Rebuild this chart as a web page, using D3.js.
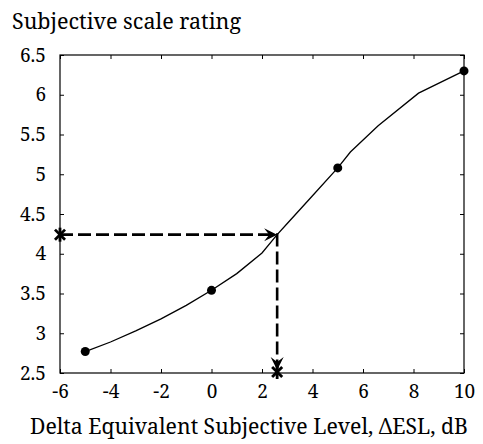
<!DOCTYPE html>
<html>
<head>
<meta charset="utf-8">
<script src="https://cdn.jsdelivr.net/npm/d3@7"></script>
<style>
  html, body { margin: 0; padding: 0; background: #fff; }
  svg { display: block; }
</style>
</head>
<body>
<div id="chart"></div>
<script>
// ---- data ----
const xTicks = [-6, -4, -2, 0, 2, 4, 6, 8, 10];
const xTickLabels = ["-6", "-4", "-2", "0", "2", "4", "6", "8", "10"];
const yTicks = [2.5, 3, 3.5, 4, 4.5, 5, 5.5, 6, 6.5];
const yTickLabels = ["2.5", "3", "3.5", "4", "4.5", "5", "5.5", "6", "6.5"];

// measured points (filled circles)
const pointX = [-5, 0, 5, 10];
const pointY = [2.77, 3.54, 5.08, 6.30];

// fitted curve
const curveX = [-5, -4, -3, -2, -1, 0, 1, 2, 2.6, 3, 4, 5, 5.5, 6.6, 8.2, 10];
const curveY = [2.77, 2.89, 3.03, 3.18, 3.35, 3.54, 3.75, 4.01, 4.24, 4.38, 4.73, 5.08, 5.28, 5.61, 6.02, 6.30];

// dashed guide: from rating on y axis to curve, then down to x axis
const guideX = [-6, 2.6, 2.6];
const guideY = [4.24, 4.24, 2.5];

const titleText = "Subjective scale rating";
const xLabelText = "Delta Equivalent Subjective Level, \u0394ESL, dB";

// ---- layout ----
const W = 483, H = 444;
const mLeft = 60, mRight = 464, mTop = 55, mBottom = 373;
const serif = '"Noto Serif", "DejaVu Serif", serif';

const svg = d3.select("#chart").append("svg")
  .attr("width", W).attr("height", H);

const x = d3.scaleLinear().domain([-6, 10]).range([mLeft, mRight]);
const y = d3.scaleLinear().domain([2.5, 6.5]).range([mBottom, mTop]);

// box
svg.append("rect")
  .attr("x", mLeft).attr("y", mTop)
  .attr("width", mRight - mLeft).attr("height", mBottom - mTop)
  .attr("fill", "none").attr("stroke", "#000").attr("stroke-width", 1.2);

// axes with inward ticks
const tickLen = 4;
const xAxisB = svg.append("g").attr("transform", `translate(0,${mBottom})`)
  .call(d3.axisBottom(x).tickValues(xTicks).tickSizeInner(-tickLen).tickSizeOuter(0).tickPadding(12)
    .tickFormat((d, i) => xTickLabels[i]));
const xAxisT = svg.append("g").attr("transform", `translate(0,${mTop})`)
  .call(d3.axisTop(x).tickValues(xTicks).tickSizeInner(-tickLen).tickSizeOuter(0).tickFormat(""));
const yAxisL = svg.append("g").attr("transform", `translate(${mLeft},0)`)
  .call(d3.axisLeft(y).tickValues(yTicks).tickSizeInner(-tickLen).tickSizeOuter(0).tickPadding(14)
    .tickFormat((d, i) => yTickLabels[i]));
const yAxisR = svg.append("g").attr("transform", `translate(${mRight},0)`)
  .call(d3.axisRight(y).tickValues(yTicks).tickSizeInner(-tickLen).tickSizeOuter(0).tickFormat(""));

[xAxisB, xAxisT, yAxisL, yAxisR].forEach(g => {
  g.attr("font-family", serif).attr("font-size", 19);
  g.select(".domain").remove();
  g.selectAll(".tick line").attr("stroke", "#000").attr("stroke-width", 1);
  g.selectAll("text").attr("fill", "#000");
});

// curve
const curveData = curveX.map((d, i) => [d, curveY[i]]);
svg.append("path")
  .datum(curveData)
  .attr("fill", "none").attr("stroke", "#000").attr("stroke-width", 1.3)
  .attr("d", d3.line().x(d => x(d[0])).y(d => y(d[1])));

// dashed guide
const guideData = guideX.map((d, i) => [d, guideY[i]]);
svg.append("path")
  .datum(guideData)
  .attr("fill", "none").attr("stroke", "#000").attr("stroke-width", 2.6)
  .attr("stroke-dasharray", "13,5")
  .attr("d", d3.line().x(d => x(d[0])).y(d => y(d[1])));

// arrowheads (stealth style)
function arrowHead(tx, ty, angleDeg) {
  const L = 13, Wd = 6.5, notch = 5;
  const p = `M0,0 L${-L},${-Wd} L${-L + notch},0 L${-L},${Wd} Z`;
  svg.append("path").attr("d", p).attr("fill", "#000")
    .attr("transform", `translate(${tx},${ty}) rotate(${angleDeg})`);
}
arrowHead(x(guideX[1]), y(guideY[1]), 0);
arrowHead(x(guideX[2]), y(guideY[2]) - 3, 90);

// asterisk markers
function star(cx, cy) {
  const r = 7, d = r * 0.72;
  const g = svg.append("g").attr("stroke", "#000").attr("stroke-width", 2.8).attr("stroke-linecap", "butt");
  g.append("line").attr("x1", cx).attr("y1", cy - r).attr("x2", cx).attr("y2", cy + r);
  g.append("line").attr("x1", cx - d).attr("y1", cy - d).attr("x2", cx + d).attr("y2", cy + d);
  g.append("line").attr("x1", cx - d).attr("y1", cy + d).attr("x2", cx + d).attr("y2", cy - d);
}
star(x(guideX[0]), y(guideY[0]));
star(x(guideX[2]), y(guideY[2]) - 1);

// points
svg.selectAll("circle.pt")
  .data(pointX.map((d, i) => [d, pointY[i]]))
  .enter().append("circle")
  .attr("class", "pt")
  .attr("cx", d => x(d[0])).attr("cy", d => y(d[1]))
  .attr("r", 4.5).attr("fill", "#000");

// title & x label
svg.append("text").attr("x", 12).attr("y", 29)
  .attr("font-family", serif).attr("font-size", 22)
  .attr("textLength", 229).attr("lengthAdjust", "spacingAndGlyphs")
  .text(titleText);
svg.append("text").attr("x", 30).attr("y", 434)
  .attr("font-family", serif).attr("font-size", 22)
  .attr("textLength", 438).attr("lengthAdjust", "spacingAndGlyphs")
  .text(xLabelText);
</script>
</body>
</html>
